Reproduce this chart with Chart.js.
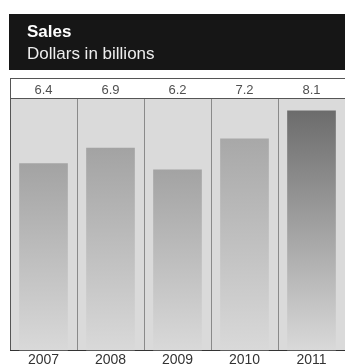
<!DOCTYPE html>
<html>
<head>
<meta charset="utf-8">
<script src="https://cdn.jsdelivr.net/npm/chart.js@4"></script>
<style>
  html, body { margin: 0; padding: 0; background: #fff; overflow: hidden; }
  canvas { display: block; }
</style>
</head>
<body>
<canvas id="myChart" width="345" height="371"></canvas>
<script>
const years = ['2007', '2008', '2009', '2010', '2011'];
const sales = [6.4, 6.9, 6.2, 7.2, 8.1];
const valueLabels = ['6.4', '6.9', '6.2', '7.2', '8.1'];

const title = 'Sales';
const subtitle = 'Dollars in billions';

// top shade of each bar, the last year stands out darker
const barTops = ['#a3a3a3', '#a3a3a3', '#a3a3a3', '#a8a8a8', '#6c6c6c'];
const barBottom = '#d9d9d9';

const FONT = '"Liberation Sans", Arial, sans-serif';

// black header band with title and unit, grey plot background under the grid
const headerPlugin = {
  id: 'header',
  beforeDraw(chart) {
    const c = chart.ctx;
    const a = chart.chartArea;
    c.save();
    c.fillStyle = '#dadada';
    c.fillRect(a.left, a.top, a.right - a.left, a.bottom - a.top);
    c.fillStyle = '#161616';
    c.fillRect(9, 14, 336, 56);
    c.fillStyle = '#ffffff';
    c.textBaseline = 'alphabetic';
    c.textAlign = 'left';
    c.font = 'bold 17px ' + FONT;
    c.fillText(title, 27, 37);
    c.fillStyle = '#eeeeee';
    c.font = '17px ' + FONT;
    c.fillText(subtitle, 27, 59);
    c.restore();
  }
};

// boxed row of values above the columns
const valueRowPlugin = {
  id: 'valueRow',
  afterDraw(chart) {
    const c = chart.ctx;
    const a = chart.chartArea;
    const x = chart.scales.x;
    c.save();
    c.fillStyle = '#ffffff';
    c.fillRect(a.left, 78, a.right - a.left, 20);
    c.strokeStyle = '#555';
    c.lineWidth = 1;
    c.strokeRect(a.left + 0.5, 78.5, a.right - a.left + 2, 20);
    c.fillStyle = '#505050';
    c.font = '13px ' + FONT;
    c.textAlign = 'center';
    c.textBaseline = 'alphabetic';
    sales.forEach((v, i) => {
      c.fillText(valueLabels[i], x.getPixelForValue(i), 94);
    });
    c.restore();
  }
};

const ctx = document.getElementById('myChart');

new Chart(ctx, {
  type: 'bar',
  data: {
    labels: years,
    datasets: [{
      label: 'Sales',
      data: sales,
      barThickness: 48,
      borderWidth: 0,
      backgroundColor(context) {
        const chart = context.chart;
        const area = chart.chartArea;
        const top = barTops[context.dataIndex];
        if (!area || context.raw === undefined) return top;
        const yTop = chart.scales.y.getPixelForValue(context.raw);
        const g = chart.ctx.createLinearGradient(0, yTop, 0, area.bottom);
        g.addColorStop(0, top);
        g.addColorStop(1, barBottom);
        return g;
      }
    }]
  },
  options: {
    responsive: false,
    animation: false,
    layout: { padding: { left: 10, top: 99, right: 0, bottom: 0 } },
    plugins: {
      legend: { display: false },
      tooltip: { enabled: false }
    },
    scales: {
      x: {
        grid: {
          offset: true,
          color: (c) => c.index === 0 ? '#555' : '#8a8a8a',
          lineWidth: 1,
          drawTicks: false
        },
        border: { display: true, color: '#333', width: 1 },
        ticks: {
          color: '#333',
          padding: 2,
          font: { family: FONT, size: 14 }
        }
      },
      y: {
        display: false,
        min: 0.4,
        max: 8.48
      }
    }
  },
  plugins: [headerPlugin, valueRowPlugin]
});
</script>
</body>
</html>
